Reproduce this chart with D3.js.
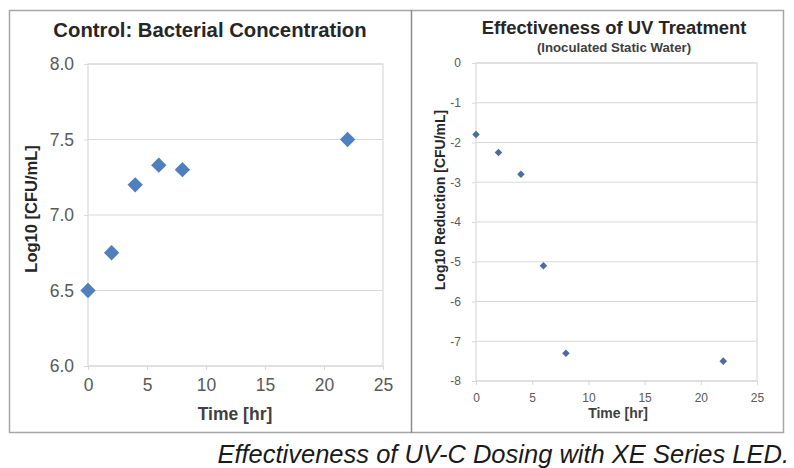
<!DOCTYPE html>
<html>
<head>
<meta charset="utf-8">
<script src="https://cdn.jsdelivr.net/npm/d3@7"></script>
<style>
  body { margin: 0; background: #fff; }
  svg { display: block; font-family: "Liberation Sans", Arial, sans-serif; }
</style>
</head>
<body>
<svg id="chart" width="794" height="468"></svg>
<script>
// data
const hours = [0, 2, 4, 6, 8, 22];
const controlLog = [6.5, 6.75, 7.2, 7.33, 7.3, 7.5];
const reductionLog = [-1.8, -2.25, -2.8, -5.1, -7.3, -7.5];
const xTicks = [0, 5, 10, 15, 20, 25];
const leftYTicks = [6.0, 6.5, 7.0, 7.5, 8.0];
const rightYTicks = [0, -1, -2, -3, -4, -5, -6, -7, -8];

const svg = d3.select("#chart");
const gridColor = "#d9d9d9";
const tickColor = "#595959";

// outer frame + divider
svg.append("rect")
  .attr("x", 9.5).attr("y", 10.5)
  .attr("width", 774).attr("height", 422)
  .attr("fill", "none").attr("stroke", "#a6a6a6").attr("stroke-width", 1.5);
svg.append("line")
  .attr("x1", 411.5).attr("x2", 411.5).attr("y1", 10).attr("y2", 433)
  .attr("stroke", "#8c8c8c").attr("stroke-width", 1.5);

function diamond(size){
  return d3.symbol().type(d3.symbolDiamond2 || d3.symbolSquare2).size(size)();
}

function panel(opt){
  const x = d3.scaleLinear().domain([0, 25]).range([opt.left, opt.right]);
  const y = d3.scaleLinear().domain(opt.yDomain).range([opt.bottom, opt.top]);
  const g = svg.append("g");

  // horizontal gridlines
  g.selectAll("line.grid")
    .data(opt.yTicks)
    .join("line")
    .attr("x1", opt.left).attr("x2", opt.right)
    .attr("y1", d => y(d)).attr("y2", d => y(d))
    .attr("stroke", gridColor).attr("stroke-width", 1.2);

  // plot border
  g.append("rect")
    .attr("x", opt.left).attr("y", opt.top)
    .attr("width", opt.right - opt.left).attr("height", opt.bottom - opt.top)
    .attr("fill", "none").attr("stroke", gridColor).attr("stroke-width", 1.2);

  // axes
  const xAxis = g.append("g")
    .attr("transform", `translate(0,${opt.bottom})`)
    .call(d3.axisBottom(x).tickValues(xTicks).tickSize(4).tickPadding(opt.xPad));
  const yAxis = g.append("g")
    .attr("transform", `translate(${opt.left},0)`)
    .call(d3.axisLeft(y).tickValues(opt.yTicks).tickFormat(opt.yFmt).tickSize(4).tickPadding(opt.yPad));
  [xAxis, yAxis].forEach(a => {
    a.select(".domain").remove();
    a.selectAll(".tick line").attr("stroke", gridColor);
    a.selectAll(".tick text")
      .attr("fill", tickColor)
      .attr("font-size", opt.tickSize)
      .attr("font-family", "Liberation Sans, Arial, sans-serif");
  });

  // markers
  g.selectAll("path.pt")
    .data(hours.map((h, i) => [h, opt.values[i]]))
    .join("path")
    .attr("transform", d => `translate(${x(d[0])},${y(d[1])})`)
    .attr("d", diamond(opt.markSize))
    .attr("fill", opt.markColor);

  // titles
  g.append("text")
    .attr("x", opt.titleX).attr("y", opt.titleY)
    .attr("text-anchor", "middle")
    .attr("font-weight", "bold").attr("font-size", opt.titleSize)
    .attr("fill", "#262626")
    .text(opt.title);
  if (opt.subtitle) {
    g.append("text")
      .attr("x", opt.titleX).attr("y", opt.subY)
      .attr("text-anchor", "middle")
      .attr("font-weight", "bold").attr("font-size", opt.subSize)
      .attr("fill", "#404040")
      .text(opt.subtitle);
  }
  g.append("text")
    .attr("x", opt.xLabelX).attr("y", opt.xLabelY)
    .attr("text-anchor", "middle")
    .attr("font-weight", "bold").attr("font-size", opt.labelSize)
    .attr("fill", "#404040")
    .text("Time [hr]");
  g.append("text")
    .attr("transform", `translate(${opt.yLabelX},${opt.yLabelY}) rotate(-90)`)
    .attr("text-anchor", "middle")
    .attr("font-weight", "bold").attr("font-size", opt.yLabelSize)
    .attr("fill", "#262626")
    .text(opt.yLabel);
}

panel({
  left: 88, right: 383, top: 64, bottom: 366,
  yDomain: [6, 8], yTicks: leftYTicks, yFmt: d3.format(".1f"),
  values: controlLog, markSize: 150, markColor: "#4f7fbd",
  tickSize: 17.5, xPad: 9, yPad: 10,
  title: "Control: Bacterial Concentration", titleX: 210, titleY: 37, titleSize: 20.3,
  xLabelX: 235, xLabelY: 420, labelSize: 17.5,
  yLabel: "Log10 [CFU/mL]", yLabelX: 37, yLabelY: 209, yLabelSize: 16.5
});

panel({
  left: 476, right: 757, top: 63, bottom: 381,
  yDomain: [-8, 0], yTicks: rightYTicks, yFmt: d => String(d),
  values: reductionLog, markSize: 36, markColor: "#4a6d9c",
  tickSize: 12, xPad: 8, yPad: 11,
  title: "Effectiveness of UV Treatment", titleX: 614, titleY: 34, titleSize: 18.4,
  subtitle: "(Inoculated Static Water)", subY: 52, subSize: 13.2,
  xLabelX: 618, xLabelY: 418, labelSize: 14,
  yLabel: "Log10 Reduction [CFU/mL]", yLabelX: 445, yLabelY: 200, yLabelSize: 14
});

// caption
svg.append("text")
  .attr("x", 789).attr("y", 463)
  .attr("text-anchor", "end")
  .attr("font-style", "italic").attr("font-size", 25.5)
  .attr("fill", "#1a1a1a")
  .text("Effectiveness of UV-C Dosing with XE Series LED.");
</script>
</body>
</html>
